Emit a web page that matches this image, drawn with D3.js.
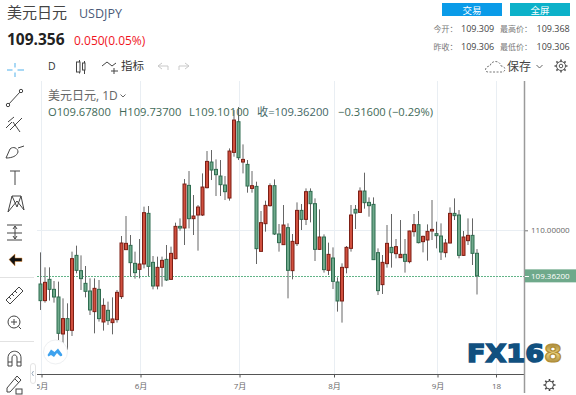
<!DOCTYPE html>
<html>
<head>
<meta charset="utf-8">
<script src="https://cdn.jsdelivr.net/npm/d3@7"></script>
<style>
html, body { margin: 0; padding: 0; background: #fff; }
svg { display: block; }
text { font-family: "Open Sans", "Noto Sans CJK SC", sans-serif; }
</style>
</head>
<body>
<div id="chart"></div>
<script>
// daily candles
var opens = [109.248,109.015,109.313,109.173,109.066,108.548,108.763,108.599,109.649,109.435,
    109.257,109.150,108.861,109.173,108.716,108.879,108.707,108.749,109.071,109.729,
    109.789,109.537,109.453,109.528,110.237,109.551,109.220,109.481,109.593,109.313,
    109.603,110.055,110.032,110.629,110.163,110.214,110.214,110.597,110.956,110.853,
    110.760,110.634,110.452,111.091,111.521,110.956,110.923,110.587,110.615,109.705,
    110.093,110.345,110.625,109.948,109.799,110.037,109.435,109.813,110.279,110.153,
    110.545,110.373,109.733,109.906,109.439,109.612,109.276,109.010,109.477,109.747,
    110.293,110.251,110.550,110.391,110.363,109.687,109.239,109.533,109.761,109.673,
    109.617,109.663,109.561,109.981,110.079,109.841,109.864,109.990,109.953,109.920,
    109.687,109.822,110.237,110.214,109.649,109.855,109.929,109.678];
var highs = [109.691,109.481,109.481,109.290,109.281,109.047,108.977,109.701,109.785,109.649,
    109.500,109.327,109.327,109.304,109.047,109.001,109.061,109.164,109.920,110.200,
    109.934,109.701,109.878,110.331,110.340,109.640,109.631,109.631,109.794,109.771,
    110.107,110.167,110.718,110.830,110.494,110.354,110.797,111.110,111.124,110.993,
    110.984,110.760,111.147,111.684,111.726,111.203,110.984,110.830,110.681,110.270,
    110.415,110.657,110.713,110.088,110.354,110.097,109.948,110.391,110.368,110.587,
    110.587,110.447,110.293,109.943,109.827,109.761,109.341,109.537,109.780,110.354,
    110.354,110.601,110.807,110.461,110.461,109.747,109.654,110.074,110.228,109.878,
    110.144,109.878,109.995,110.228,110.270,109.925,110.083,110.424,110.121,110.097,
    109.878,110.321,110.447,110.284,109.990,110.167,110.167,109.737];
var lows = [108.884,108.987,109.015,108.987,108.464,108.408,108.324,108.520,109.397,109.164,
    109.061,108.814,108.557,108.721,108.595,108.674,108.543,108.707,109.038,109.724,
    109.351,109.323,109.327,109.467,109.360,109.173,109.173,109.211,109.290,109.304,
    109.593,109.995,109.794,110.027,109.934,109.715,110.200,110.587,110.704,110.480,
    110.480,110.424,110.415,111.031,110.984,110.797,110.527,110.527,109.528,109.705,
    109.981,110.331,109.934,109.701,109.799,109.047,109.313,109.780,110.004,110.074,
    110.111,109.570,109.724,109.407,109.374,109.178,108.861,108.707,109.397,109.701,
    110.018,110.247,110.303,110.191,109.589,109.094,109.108,109.477,109.477,109.607,
    109.617,109.407,109.537,109.911,109.817,109.691,109.575,109.864,109.747,109.584,
    109.621,109.817,110.144,109.607,109.640,109.794,109.514,109.101];
var closes = [109.015,109.271,109.173,109.066,108.557,108.763,108.599,109.603,109.439,109.323,
    109.145,108.884,109.187,108.763,108.949,108.735,108.758,109.131,109.822,109.817,
    109.547,109.407,109.528,110.247,109.495,109.220,109.481,109.579,109.304,109.677,
    110.055,110.032,110.648,110.163,110.200,110.326,110.606,110.965,110.844,110.779,
    110.639,110.541,111.110,111.544,111.017,110.993,110.620,110.625,109.743,110.107,
    110.349,110.625,109.948,109.827,110.074,109.439,109.845,110.279,110.153,110.541,
    110.373,109.733,109.906,109.449,109.663,109.285,109.010,109.481,109.761,110.214,
    110.242,110.550,110.387,110.345,109.589,109.155,109.551,109.817,109.687,109.771,
    109.663,109.565,109.990,110.079,109.827,109.915,109.985,110.013,109.925,109.696,
    109.822,110.237,110.205,109.649,109.906,109.929,109.677,109.362];

var monthTickIndex = [0, 22, 44, 65, 88, 101];
var monthTickLabels = ["5月", "6月", "7月", "8月", "9月", "18"];
var priceTicks = [110];
var lastPrice = 109.362;
var titleText = "美元日元";
var legendOhlc = ["O109.67800", "H109.73700", "L109.10100", "收=109.36200", "−0.31600 (−0.29%)"];
var statRows = [["今开：", "109.309", "最高价：", "109.368"], ["昨收：", "109.306", "最低价：", "109.306"]];

var upFill = "#d04f3e", upEdge = "#7d1f15";
var downFill = "#6fa98b", downEdge = "#2f6d50";
var iconColor = "#444";

var svg = d3.select("#chart").append("svg")
    .attr("width", 576)
    .attr("height", 395);

svg.append("rect").attr("width", 576).attr("height", 395).attr("fill", "#fff");

var plotLeft = 37, plotRight = 524, plotTop = 81, plotBottom = 374;

var xScale = d3.scaleLinear().domain([0, 97]).range([40.5, 477]);
var yScale = d3.scaleLinear().domain([109, 111]).range([301.7, 158.9]);

function addText(str, x, y, size, color, anchor, weight) {
    return svg.append("text")
        .attr("x", x).attr("y", y)
        .attr("font-size", size)
        .attr("fill", color)
        .attr("text-anchor", anchor || "start")
        .attr("font-weight", weight || "normal")
        .text(str);
}

// grid lines
svg.append("g").selectAll("line")
    .data(monthTickIndex)
    .join("line")
    .attr("x1", function(d) { return Math.floor(xScale(d) + 1) + 0.5; })
    .attr("x2", function(d) { return Math.floor(xScale(d) + 1) + 0.5; })
    .attr("y1", plotTop).attr("y2", plotBottom)
    .attr("stroke", "#e9eef3");

svg.append("g").selectAll("line")
    .data(priceTicks)
    .join("line")
    .attr("x1", plotLeft).attr("x2", plotRight)
    .attr("y1", function(d) { return Math.round(yScale(d)) + 0.5; })
    .attr("y2", function(d) { return Math.round(yScale(d)) + 0.5; })
    .attr("stroke", "#e9eef3");

// last price line
svg.append("line")
    .attr("x1", plotLeft).attr("x2", plotRight)
    .attr("y1", Math.round(yScale(lastPrice)) + 0.5)
    .attr("y2", Math.round(yScale(lastPrice)) + 0.5)
    .attr("stroke", "#62b488")
    .attr("stroke-dasharray", "2,1");

// candles
var candles = svg.append("g").selectAll("g")
    .data(opens)
    .join("g");

candles.append("line")
    .attr("x1", function(d, i) { return xScale(i); })
    .attr("x2", function(d, i) { return xScale(i); })
    .attr("y1", function(d, i) { return yScale(highs[i]); })
    .attr("y2", function(d, i) { return yScale(lows[i]); })
    .attr("stroke", "#666");

candles.append("rect")
    .attr("x", function(d, i) { return xScale(i) - 1.5; })
    .attr("width", 3)
    .attr("y", function(d, i) { return yScale(Math.max(opens[i], closes[i])); })
    .attr("height", function(d, i) { return Math.abs(yScale(opens[i]) - yScale(closes[i])); })
    .attr("fill", function(d, i) { return closes[i] > opens[i] ? upFill : downFill; })
    .attr("stroke", function(d, i) { return closes[i] > opens[i] ? upEdge : downEdge; });

// time axis, the first label is cut by the toolbar
svg.append("defs").append("clipPath").attr("id", "axisclip")
    .append("rect").attr("x", plotLeft).attr("y", 370).attr("width", plotRight - plotLeft).attr("height", 25);

var xAxis = svg.append("g")
    .attr("clip-path", "url(#axisclip)")
    .append("g")
    .attr("transform", "translate(1," + (plotBottom + 0.5) + ")")
    .call(d3.axisBottom(xScale)
        .tickValues(monthTickIndex)
        .tickSize(3)
        .tickPadding(6)
        .tickFormat(function(d, i) { return monthTickLabels[i]; }));
xAxis.select(".domain").remove();
xAxis.selectAll("line").attr("stroke", "#555");
xAxis.selectAll("text").attr("fill", "#666").attr("font-size", 8)
    .style("font-family", "\"Open Sans\", \"Noto Sans CJK SC\", sans-serif");

svg.append("line")
    .attr("x1", plotLeft).attr("x2", plotRight)
    .attr("y1", plotBottom + 0.5).attr("y2", plotBottom + 0.5)
    .attr("stroke", "#555");

// price axis
var yAxis = svg.append("g")
    .attr("transform", "translate(" + plotRight + ",0)")
    .call(d3.axisRight(yScale)
        .tickValues(priceTicks)
        .tickSize(4)
        .tickPadding(3)
        .tickFormat(function(d) { return d3.format(".5f")(d); }));
yAxis.select(".domain").remove();
yAxis.selectAll("line").attr("stroke", "#777");
yAxis.selectAll("text").attr("fill", "#666").attr("font-size", 8)
    .style("font-family", "\"Open Sans\", sans-serif");

svg.append("line")
    .attr("x1", plotRight + 0.5).attr("x2", plotRight + 0.5)
    .attr("y1", plotTop).attr("y2", 393)
    .attr("stroke", "#9a9a9a")
    .attr("stroke-width", 1.5);

svg.append("rect")
    .attr("x", plotRight + 1).attr("y", yScale(lastPrice) - 6.5)
    .attr("width", 52).attr("height", 13)
    .attr("fill", "#6fa98b");
svg.append("line")
    .attr("x1", plotRight + 1).attr("x2", plotRight + 5)
    .attr("y1", Math.round(yScale(lastPrice)) + 0.5).attr("y2", Math.round(yScale(lastPrice)) + 0.5)
    .attr("stroke", "#fff");
addText(d3.format(".5f")(lastPrice), 531, yScale(lastPrice) + 3, 8, "#fff");

// header
addText(titleText, 7, 18, 15, "#444");
addText("USDJPY", 79, 18, 12.5, "#4b5a78");
addText("109.356", 7, 44.5, 15.5, "#222", "start", "bold");
addText("0.050(0.05%)", 74, 45, 12, "#f0141e");

svg.append("rect").attr("x", 442).attr("y", 3).attr("width", 60).attr("height", 13).attr("fill", "#0a9be8");
svg.append("rect").attr("x", 510).attr("y", 3).attr("width", 60).attr("height", 13).attr("fill", "#0cb1c9");
addText("交易", 472, 13.5, 9.5, "#fff", "middle");
addText("全屏", 540, 13.5, 9.5, "#fff", "middle");

statRows.forEach(function(row, r) {
    var y = 32 + r * 18;
    addText(row[0], 433.5, y, 8, "#777");
    addText(row[1], 461, y, 9, "#444");
    addText(row[2], 500, y, 8, "#777");
    addText(row[3], 536.5, y, 9, "#444");
});

// top toolbar
addText("D", 48, 70, 10.5, "#333");
addText("指标", 121, 70, 11.5, "#333");
addText("保存", 507, 71, 12, "#444");

function icon(d, color, width, dash) {
    return svg.append("path")
        .attr("d", d)
        .attr("fill", "none")
        .attr("stroke", color || iconColor)
        .attr("stroke-width", width || 1)
        .attr("stroke-dasharray", dash || null);
}

icon("M76.5,65V72M79.5,60V73.5M84.5,61V74", iconColor);
svg.append("rect").attr("x", 76.5).attr("y", 62).attr("width", 3.5).attr("height", 10).attr("fill", "#fff").attr("stroke", iconColor);
svg.append("rect").attr("x", 82.5).attr("y", 63).attr("width", 2.5).attr("height", 7).attr("fill", "#fff").attr("stroke", iconColor);
icon("M102,66L107,62L112,66L116,63M114,68V74M111,71H118", iconColor);
icon("M158,66H168M158,66L162,63M158,66L162,69M168,66V70", "#c9c9c9");
icon("M189,66H179M189,66L185,63M189,66L185,69M179,66V70", "#c9c9c9");
icon("M488,72C484,72 485,66 490,66C491,60 500,60 501,66C506,66 506,72 502,72Z", "#777", 1, "2,1.5");
icon("M536.5,65L539.5,68L542.5,65", "#666");

// gear icons
function gear(cx, cy, r, color) {
    var teeth = d3.range(8).map(function(k) {
        var a = k * Math.PI / 4;
        return "M" + (cx + r * Math.cos(a)) + "," + (cy + r * Math.sin(a)) +
            "L" + (cx + (r + 2) * Math.cos(a)) + "," + (cy + (r + 2) * Math.sin(a));
    }).join("");
    icon(teeth, color, 1.6);
    svg.append("circle").attr("cx", cx).attr("cy", cy).attr("r", r).attr("fill", "#fff").attr("stroke", color);
}
gear(561, 66, 4.5, "#555");
svg.append("circle").attr("cx", 561).attr("cy", 66).attr("r", 1.8).attr("fill", "#fff").attr("stroke", "#555");
gear(549.5, 385, 4, "#444");

// left toolbar
icon("M15,63V67.5M15,72.5V77M7,70H12.5M17.5,70H24", "#8ccbf2", 1.5);
icon("M8,105L20,92", iconColor);
svg.append("circle").attr("cx", 8).attr("cy", 105).attr("r", 1.7).attr("fill", "#fff").attr("stroke", iconColor);
svg.append("circle").attr("cx", 21).attr("cy", 91).attr("r", 1.7).attr("fill", "#fff").attr("stroke", iconColor);
icon("M8,122L14,117M10,130L22,118M13,122L20,132M6,128L12,122", iconColor);
icon("M6,158L10,149C13,146 18,148 18,152C17,156 12,158 6,158ZM18,148L24,146", iconColor);
icon("M10,171H20M15,171V185", iconColor);
icon("M8,212L12,196L17,207L21,196L24,210M8,212L17,201L24,210M12,196L21,196", iconColor);
icon("M7,225H22M7,233H22M7,240H22M15,226V239M13,229L15,226L17,229M13,236L15,239L17,236", iconColor);
svg.append("path").attr("d", "M9,259.5L15,254V258H22V261.5H15V266Z").attr("fill", "#111").attr("stroke", "#e8923b").attr("stroke-width", 0.5);
icon("M6,300L19,287L23,291L10,304ZM9,297L11,299M12,294L14,296M15,291L17,293", iconColor);
svg.append("circle").attr("cx", 14).attr("cy", 322).attr("r", 6).attr("fill", "none").attr("stroke", iconColor);
icon("M11,322H17M14,319V325M18.5,326.5L21,329", iconColor);
icon("M8,366V358C8,349 21,349 21,358V366H17V358C17,354 12,354 12,358V366ZM8,362H12M17,362H21", iconColor);
icon("M7,388L17,376L21,380L10,392L7,392ZM15,379L19,383", iconColor);
svg.append("rect").attr("x", 16).attr("y", 389).attr("width", 6).attr("height", 5).attr("fill", "#fff").attr("stroke", iconColor);

svg.append("line").attr("x1", 0).attr("x2", 34).attr("y1", 277.5).attr("y2", 277.5).attr("stroke", "#e2e2e2");
svg.append("line").attr("x1", 0).attr("x2", 34).attr("y1", 341.5).attr("y2", 341.5).attr("stroke", "#e2e2e2");
svg.append("rect").attr("x", 30.5).attr("y", 363.5).attr("width", 5).attr("height", 20).attr("rx", 2.5).attr("fill", "#fff").attr("stroke", "#e4e4e4");
icon("M33.5,371L32,373.5L33.5,376", "#9ab");

// floating logo
svg.append("circle").attr("cx", 55.5).attr("cy", 352).attr("r", 12).attr("fill", "#fff").attr("stroke", "#eef0f2");
svg.append("path")
    .attr("d", "M47.5,355L51,349.5L54.5,352L58,348.5L62,354C63,356 61,356.5 60,356L57,353L54,357L51,355L48.5,356.5Z")
    .attr("fill", "#3ea2ee");

// chart legend
addText("美元日元, 1D", 48, 100, 12, "#666");
icon("M120.5,94.5L123,97L125.5,94.5", "#666");
var legendX = [48, 119, 189, 257, 338];
legendOhlc.forEach(function(s, i) {
    addText(s, legendX[i], 116, 11.2, i === 3 ? "#466" : "#3f6a58");
});

// watermark
var fxGold = svg.append("defs").append("linearGradient")
    .attr("id", "fxgold").attr("x1", 0).attr("x2", 0).attr("y1", 0).attr("y2", 1);
fxGold.append("stop").attr("offset", "0").attr("stop-color", "#8a6a20");
fxGold.append("stop").attr("offset", "0.5").attr("stop-color", "#e9cf7a");
fxGold.append("stop").attr("offset", "1").attr("stop-color", "#8a6a20");

svg.append("text")
    .attr("x", 467).attr("y", 361.5)
    .attr("font-size", 24)
    .attr("font-weight", "bold")
    .attr("textLength", 77)
    .attr("lengthAdjust", "spacingAndGlyphs")
    .attr("fill", "#11507f")
    .attr("stroke", "#11507f")
    .attr("stroke-width", 1.5)
    .style("font-family", "\"DejaVu Sans\", sans-serif")
    .text("FX16");
svg.append("text")
    .attr("x", 544).attr("y", 361.5)
    .attr("font-size", 24)
    .attr("font-weight", "bold")
    .attr("textLength", 18)
    .attr("lengthAdjust", "spacingAndGlyphs")
    .attr("fill", "url(#fxgold)")
    .attr("stroke", "#b08d35")
    .attr("stroke-width", 1.2)
    .style("font-family", "\"DejaVu Sans\", sans-serif")
    .text("8");
</script>
</body>
</html>
